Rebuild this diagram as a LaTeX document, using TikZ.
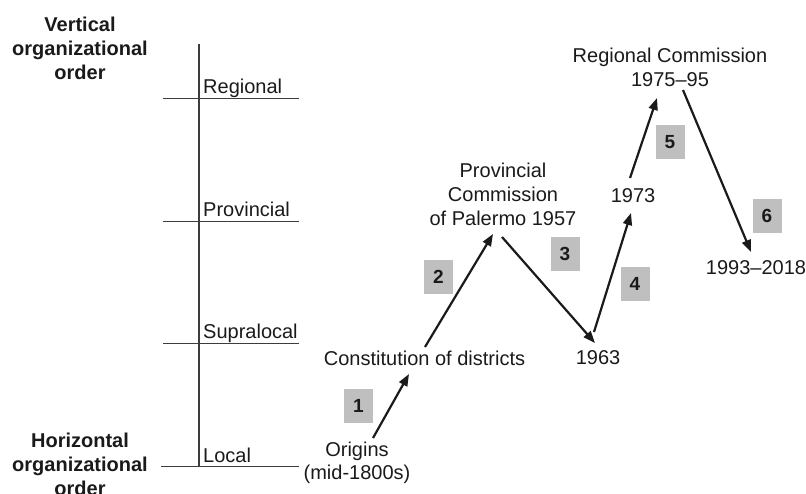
\documentclass[tikz,border=0pt]{standalone}
\usepackage{fontspec}
\setmainfont{Liberation Sans}
\usetikzlibrary{arrows.meta,calc}
\definecolor{ink}{HTML}{1A1A1A}
\definecolor{boxgrey}{HTML}{BFBFBF}
\begin{document}
\begin{tikzpicture}[x=1pt,y=-1pt,
  txt/.style={inner sep=0pt,outer sep=0pt,text=ink,align=center,anchor=base,
    font=\fontsize{20}{24}\selectfont},
  lvl/.style={inner sep=0pt,text=ink,anchor=base west,font=\fontsize{20}{24}\selectfont},
  axislbl/.style={inner sep=0pt,text=ink,align=center,anchor=base,
    font=\fontsize{20}{24}\selectfont\bfseries},
  numbox/.style={fill=boxgrey,minimum width=29pt,minimum height=34pt,inner sep=0pt,
    text=ink,font=\fontsize{19}{22}\selectfont\bfseries},
  axisline/.style={draw=ink!85,line width=1.1pt},
  flow/.style={draw=ink,line width=2.2pt,-{Triangle[length=12pt,width=9pt]}}
]
\useasboundingbox (0,0) rectangle (806,494);
% axes
\coordinate (axtop) at (199,44);
\coordinate (axbot) at (199,467);
\draw[axisline] (axtop) -- (axbot);
\coordinate (r1) at (163,98.7);  \coordinate (r2) at (299,98.7);
\coordinate (p1) at (163,221.3); \coordinate (p2) at (299,221.3);
\coordinate (s1) at (163,343.3); \coordinate (s2) at (299,343.3);
\coordinate (l1) at (161,466.7); \coordinate (l2) at (299,466.7);
\draw[axisline] (r1) -- (r2);
\draw[axisline] (p1) -- (p2);
\draw[axisline] (s1) -- (s2);
\draw[axisline] (l1) -- (l2);
\node[lvl] (lreg) at (203,94) {Regional};
\node[lvl] (lprov) at (203,216.5) {Provincial};
\node[lvl] (lsup) at (203,339) {Supralocal};
\node[lvl] (lloc) at (203,462) {Local};
\node[axislbl] (vert) at (80,80) {Vertical\\organizational\\order};
\node[axislbl] (horiz) at (80,495) {Horizontal\\organizational\\order};
% stages
\node[txt,font=\fontsize{20}{23}\selectfont] (orig) at (357,479) {Origins\\(mid-1800s)};
\node[txt] (const) at (424.5,365) {Constitution of districts};
\node[txt] (prov) at (503,226) {Provincial\\Commission\\of Palermo 1957};
\node[txt] (n1963) at (598,364) {1963};
\node[txt] (n1973) at (633,202.5) {1973};
\node[txt,font=\fontsize{20}{24.5}\selectfont] (reg) at (670,87) {Regional Commission\\1975–95};
\node[txt] (n1993) at (756,275) {1993–2018};
% arrows
\draw[flow] ($(orig.base)+(16,-41)$) -- ($(const.base)+(-15.5,9)$);
\draw[flow] ($(const.base)+(0.5,-18)$) -- ($(prov.base)+(-10,8)$);
\draw[flow] ($(prov.base)+(-1,11)$) -- ($(n1963.base)+(-3,-21)$);
\draw[flow] ($(n1963.base)+(-4,-32)$) -- ($(n1973.base)+(-2,10.5)$);
\draw[flow] ($(n1973.base)+(-3,-24.5)$) -- ($(reg.base)+(-13,11)$);
\draw[flow] ($(reg.base)+(13,3)$) -- ($(n1993.base)+(-5,-23)$);
% number boxes
\node[numbox] (b1) at (358.5,405.5) {1};
\node[numbox] (b2) at (438.5,277) {2};
\node[numbox] (b3) at (565,254) {3};
\node[numbox] (b4) at (635,284) {4};
\node[numbox] (b5) at (670,142) {5};
\node[numbox] (b6) at (767,216) {6};
\end{tikzpicture}
\end{document}
